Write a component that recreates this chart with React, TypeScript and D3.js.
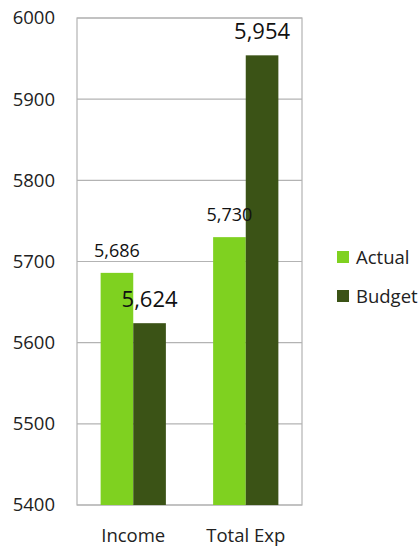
import React from "react";
import * as d3 from "d3";

const categories = ["Income", "Total Exp"];
const seriesNames = ["Actual", "Budget"];
const actual = [5686, 5730];
const budget = [5624, 5954];
const yTicks = [5400, 5500, 5600, 5700, 5800, 5900, 6000];
const colors = ["#7fd120", "#3b5316"];

export default function App() {
  const W = 420, H = 546;
  const left = 77, right = 302, top = 18, bottom = 505;
  const x = d3.scaleBand<string>().domain(categories).range([left, right]).paddingInner(0.42).paddingOuter(0.21);
  const xs = d3.scaleBand<string>().domain(seriesNames).range([0, x.bandwidth()]);
  const y = d3.scaleLinear().domain([5400, 6000]).range([bottom, top]);
  const series = [actual, budget];
  const fmt = d3.format(",");
  return (
    <svg width={W} height={H} style={{ position: "absolute", left: 0, top: 0, background: "#fff" }} fontFamily="'Open Sans', sans-serif">
      {yTicks.map((t) => (
        <g key={t}>
          <line x1={left} x2={right} y1={y(t)} y2={y(t)} stroke="#b3b3b3" strokeWidth={1.2} />
          <text x={55} y={y(t)} dy="0.35em" textAnchor="end" fontSize={18.5} fill="#222">{t}</text>
        </g>
      ))}
      <rect x={left} y={top} width={right - left} height={bottom - top} fill="none" stroke="#b3b3b3" strokeWidth={1.2} />
      {categories.map((c, i) =>
        series.map((s, j) => (
          <rect key={c + j} x={(x(c) as number) + (xs(seriesNames[j]) as number)} y={y(s[i])} width={xs.bandwidth()} height={bottom - y(s[i])} fill={colors[j]} />
        ))
      )}
      {categories.map((c, i) =>
        series.map((s, j) => (
          <text key={"l" + c + j} x={(x(c) as number) + (xs(seriesNames[j]) as number) + xs.bandwidth() / 2}
            y={y(s[i]) - 16} textAnchor="middle"
            fontSize={j === 0 ? 18 : 22} fill="#111">{fmt(s[i])}</text>
        ))
      )}
      {categories.map((c) => (
        <text key={"c" + c} x={(x(c) as number) + x.bandwidth() / 2} y={542} textAnchor="middle" fontSize={18.5} fill="#222">{c}</text>
      ))}
      {seriesNames.map((n, j) => (
        <g key={n} transform={`translate(337, ${251 + j * 39})`}>
          <rect x={0} y={0} width={12} height={12} fill={colors[j]} />
          <text x={19} y={12.5} fontSize={18.5} fill="#222">{n}</text>
        </g>
      ))}
    </svg>
  );
}
